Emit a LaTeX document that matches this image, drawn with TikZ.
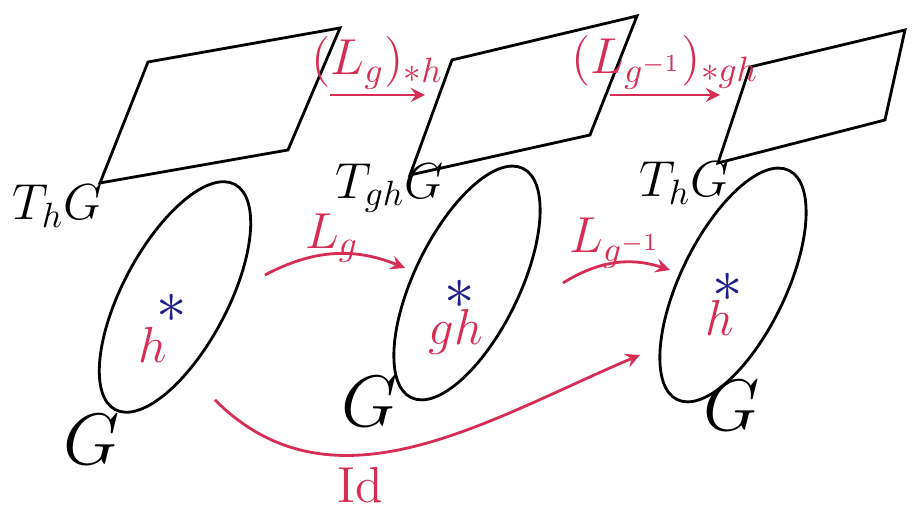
\documentclass[tikz,border=0pt]{standalone}
\usepackage{amsmath,amssymb}
\usepackage{tikz}
\usetikzlibrary{positioning,calc,arrows.meta,shapes.geometric}
\usepackage{xcolor}
\definecolor{inkred}{RGB}{214,45,85}
\definecolor{inkblue}{RGB}{30,30,140}

\begin{document}
\begin{tikzpicture}[
    grp/.style={ellipse,draw,thick,minimum width=2.55cm,minimum height=1.05cm},
    tang/.style={draw,thick},
    pt/.style={inkblue,font=\LARGE,inner sep=0pt},
    lbl/.style={inkred,font=\Large},
    ptr/.style={->,>=stealth,thick,inkred}]
\useasboundingbox (0,0) rectangle (9.14,5.18);

% tangent planes
\draw[tang] (1.00,3.35) -- (1.48,4.56) -- (3.40,4.90) -- (2.88,3.68) -- cycle;
\draw[tang] (4.10,3.43) -- (4.52,4.58) -- (6.37,5.02) -- (5.90,3.83) -- cycle;
\draw[tang] (7.18,3.55) -- (7.50,4.51) -- (9.05,4.88) -- (8.85,3.98) -- cycle;
\node[font=\Large] (t1) at (0.58,3.12) {$T_hG$};
\node[font=\Large] (t2) at (3.90,3.30) {$T_{gh}G$};
\node[font=\Large] (t3) at (6.85,3.35) {$T_hG$};

% groups
\node[grp,rotate=62] (g1) at (1.75,2.21) {};
\node[grp,rotate=64] (g2) at (4.67,2.35) {};
\node[grp,rotate=64] (g3) at (7.33,2.33) {};
\node[font=\huge] (n1) at (0.92,0.78) {$G$};
\node[font=\huge] (n2) at (3.70,1.16) {$G$};
\node[font=\huge] (n3) at (7.32,1.12) {$G$};

% points
\node[pt] (p1) at (1.72,2.10) {$\ast$};
\node[pt] (p2) at (4.60,2.24) {$\ast$};
\node[pt] (p3) at (7.28,2.31) {$\ast$};
\node[lbl] (h1) at (1.53,1.73) {$h$};
\node[lbl] (h2) at (4.56,1.86) {$gh$};
\node[lbl] (h3) at (7.20,2.00) {$h$};

% maps
\coordinate (a1) at (2.65,2.43);
\coordinate (b1) at (4.05,2.50);
\coordinate (a2) at (5.63,2.35);
\coordinate (b2) at (6.70,2.48);
\coordinate (a3) at (2.15,1.18);
\coordinate (b3) at (6.40,1.63);
\coordinate (a4) at (3.30,4.23);
\coordinate (b4) at (4.25,4.23);
\coordinate (a5) at (6.10,4.23);
\coordinate (b5) at (7.20,4.23);

\draw[ptr] (a1) to[bend left=25] (b1);
\node[lbl] (lg) at (3.32,2.80) {$L_g$};
\draw[ptr] (a2) to[bend left=25] (b2);
\node[lbl] (lgi) at (6.15,2.75) {$L_{g^{-1}}$};
\draw[ptr] (a3) to[out=-45,in=203] (b3);
\node[lbl] (id) at (3.60,0.33) {$\mathrm{Id}$};
\draw[ptr] (a4) -- node[lbl,above=-2pt] (dlg) {$(L_g)_{*h}$} (b4);
\draw[ptr] (a5) -- node[lbl,above=-2pt] (dlgi) {$(L_{g^{-1}})_{*gh}$} (b5);

\end{tikzpicture}
\end{document}
